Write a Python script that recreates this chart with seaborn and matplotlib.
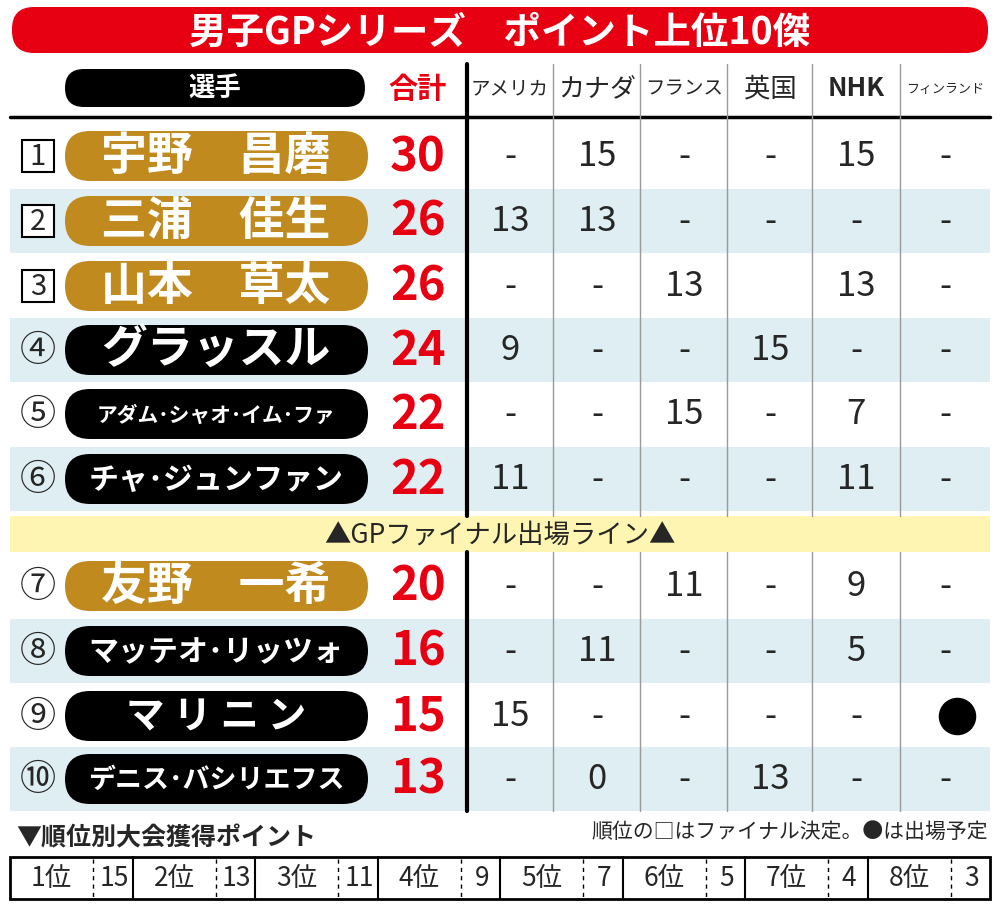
import seaborn as sns
import matplotlib.pyplot as plt
from matplotlib.patches import FancyBboxPatch, Rectangle

sns.set_style("white")
plt.rcParams['font.family'] = ['Noto Sans CJK JP', 'DejaVu Sans']

title = "男子GPシリーズ　ポイント上位10傑"
events = ["アメリカ", "カナダ", "フランス", "英国", "NHK", "フィンランド"]
ranks = ["1", "2", "3", "④", "⑤", "⑥", "⑦", "⑧", "⑨", "⑩"]
finalist = [True, True, True, False, False, False, False, False, False, False]
names = ["宇野　昌磨", "三浦　佳生", "山本　草太", "グラッスル", "アダム･シャオ･イム･ファ",
         "チャ･ジュンファン", "友野　一希", "マッテオ･リッツォ", "マ リ ニ ン", "デニス･バシリエフス"]
japanese = [True, True, True, False, False, False, True, False, False, False]
totals = [30, 26, 26, 24, 22, 22, 20, 16, 15, 13]
points = [
    ["-", "15", "-", "-", "15", "-"],
    ["13", "13", "-", "-", "-", "-"],
    ["-", "-", "13", "", "13", "-"],
    ["9", "-", "-", "15", "-", "-"],
    ["-", "-", "15", "-", "7", "-"],
    ["11", "-", "-", "-", "11", "-"],
    ["-", "-", "11", "-", "9", "-"],
    ["-", "11", "-", "-", "5", "-"],
    ["15", "-", "-", "-", "-", "●"],
    ["-", "0", "-", "13", "-", "-"],
]
place_labels = ["1位", "2位", "3位", "4位", "5位", "6位", "7位", "8位"]
place_points = [15, 13, 11, 9, 7, 5, 4, 3]

fig = plt.figure(figsize=(10, 9.12), dpi=100)
ax = fig.add_axes([0, 0, 1, 1])
ax.set_xlim(0, 1000)
ax.set_ylim(912, 0)
ax.axis("off")

# title bar
ax.add_patch(FancyBboxPatch((12, 8), 976, 46, boxstyle="round,pad=0,rounding_size=22",
                            fc="#e60012", ec="none"))
ax.text(500, 32, title, color="white", fontsize=27, fontweight="bold", ha="center", va="center")

# header
ax.add_patch(FancyBboxPatch((65, 70), 300, 38, boxstyle="round,pad=0,rounding_size=19",
                            fc="black", ec="none"))
ax.text(215, 89, "選手", color="white", fontsize=19, fontweight="bold", ha="center", va="center")
ax.text(418, 89, "合計", color="#e60012", fontsize=21, fontweight="bold", ha="center", va="center")
col_x = [510, 597, 684, 770, 856, 945]
edges = [467, 553, 640, 727, 812, 900]
for x, ev in zip(col_x, events):
    fs = min(19, 78 / len(ev) / 1.39)
    ax.text(x, 89, ev, fontsize=fs, ha="center", va="center",
            fontweight="bold" if ev == "NHK" else "normal")
ax.plot([10, 990], [118, 118], color="black", lw=2.5)

row_y = [157, 222, 287, 351, 415, 480, 587, 652, 717, 780]
band_h = 64
for i, y in enumerate(row_y):
    if i % 2 == 1:
        ax.add_patch(Rectangle((10, y - band_h / 2), 980, band_h, fc="#deeef2", ec="none"))
ax.add_patch(Rectangle((10, 517), 980, 36, fc="#fff5b3", ec="none"))
ax.text(500, 535, "▲GPファイナル出場ライン▲", fontsize=19, ha="center", va="center")

for x in edges[1:]:
    ax.plot([x, x], [65, 517], color="#999999", lw=1)
    ax.plot([x, x], [553, 812], color="#999999", lw=1)
ax.plot([467, 467], [65, 517], color="black", lw=3)
ax.plot([467, 467], [553, 812], color="black", lw=3)

for i, y in enumerate(row_y):
    if finalist[i]:
        ax.add_patch(Rectangle((22, y - 16), 32, 32, fc="white", ec="black", lw=1.5))
        ax.text(38, y, ranks[i], fontsize=21, ha="center", va="center")
    else:
        ax.text(38, y, ranks[i], fontsize=26, ha="center", va="center")
    ax.add_patch(FancyBboxPatch((65, y - 25), 303, 50, boxstyle="round,pad=0,rounding_size=25",
                                fc="#c08a1e" if japanese[i] else "black", ec="none"))
    nm = names[i]
    fs = min(33, 270 / len(nm) / 1.39)
    ax.text(216, y, nm, color="white", fontsize=fs, fontweight="bold", ha="center", va="center")
    ax.text(418, y, str(totals[i]), color="#e60012", fontsize=34, fontweight="bold",
            ha="center", va="center")
    for x, v in zip(col_x, points[i]):
        if v == "●":
            ax.plot(x + 12, y, "o", color="black", ms=26)
        else:
            ax.text(x, y, v, fontsize=25, ha="center", va="center")

# bottom legend
ax.text(16, 838, "▼順位別大会獲得ポイント", fontsize=18, fontweight="bold", ha="left", va="center")
ax.text(988, 832, "順位の□はファイナル決定。●は出場予定", fontsize=15, ha="right", va="center")
ax.add_patch(Rectangle((10, 858), 980, 42, fc="white", ec="black", lw=2))
w = 980 / 8
for k, (lab, p) in enumerate(zip(place_labels, place_points)):
    x0 = 10 + k * w
    if k > 0:
        ax.plot([x0, x0], [858, 900], color="black", lw=1.5)
    ax.plot([x0 + w * 0.68, x0 + w * 0.68], [860, 898], color="black", lw=1, ls=(0, (3, 3)))
    ax.text(x0 + w * 0.34, 879, lab, fontsize=19, ha="center", va="center")
    ax.text(x0 + w * 0.85, 879, str(p), fontsize=19, ha="center", va="center")

fig.savefig("out.png", dpi=100, facecolor="white")
